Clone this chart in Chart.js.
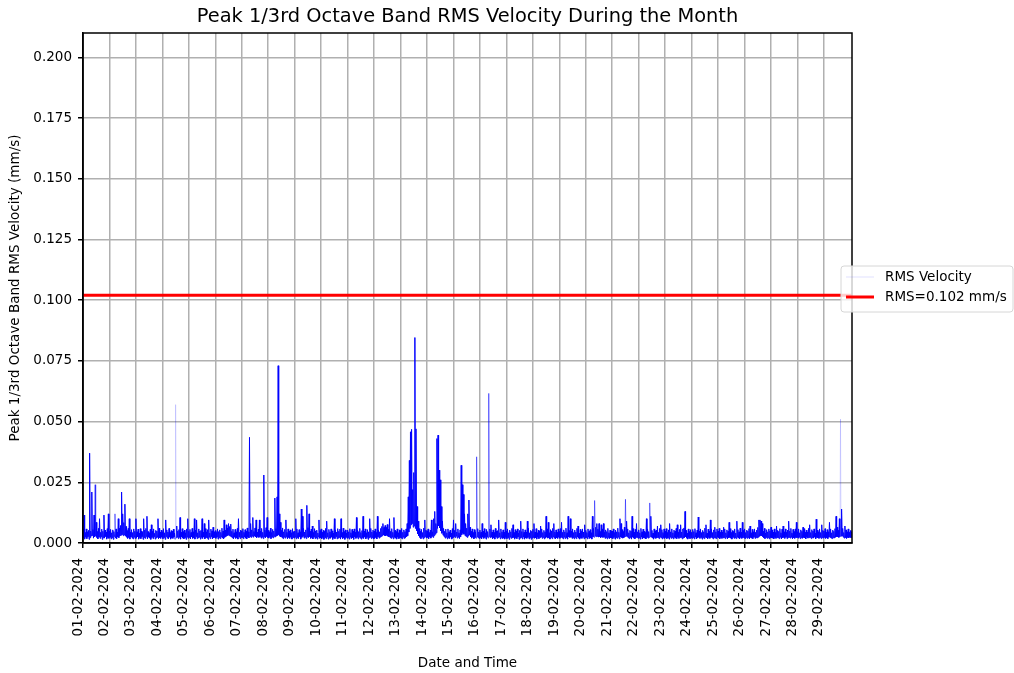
<!DOCTYPE html>
<html>
<head>
<meta charset="utf-8">
<script src="https://cdn.jsdelivr.net/npm/chart.js@4.4.1/dist/chart.umd.min.js"></script>
<style>
  html, body { margin: 0; padding: 0; background: #fff; }
  canvas { display: block; }
</style>
</head>
<body>
<canvas id="rmsChart" width="1014" height="673"></canvas>
<script>
// Day tick labels (one tick per day of February 2024)
const dayLabels = [
  "01-02-2024", "02-02-2024", "03-02-2024", "04-02-2024", "05-02-2024",
  "06-02-2024", "07-02-2024", "08-02-2024", "09-02-2024", "10-02-2024",
  "11-02-2024", "12-02-2024", "13-02-2024", "14-02-2024", "15-02-2024",
  "16-02-2024", "17-02-2024", "18-02-2024", "19-02-2024", "20-02-2024",
  "21-02-2024", "22-02-2024", "23-02-2024", "24-02-2024", "25-02-2024",
  "26-02-2024", "27-02-2024", "28-02-2024", "29-02-2024"
];
const yTickValues = [0, 0.025, 0.05, 0.075, 0.1, 0.125, 0.15, 0.175, 0.2];

// Hourly highest reading, in µm/s (= mm/s x 1000), one row per day
const hourlyHighUm = [
  5.6, 11.5, 4.3, 5.8, 4.6, 5.2, 37, 4.9, 21, 5.5, 11.5, 24, 8.5, 4.7, 6.0, 10, 4.4, 5.7, 4.8, 11.5, 5.3, 4.5, 5.9, 12,
  4.9, 5.6, 4.2, 5.4, 4.7, 12, 5.8, 4.5, 10, 6.1, 7.2, 21, 12, 8.4, 16, 6.8, 5.1, 6.0, 10, 4.4, 5.5, 4.3, 5.8, 4.8,
  10, 4.6, 5.7, 4.1, 5.9, 4.9, 4.4, 10, 5.3, 6.0, 11, 4.7, 4.2, 5.6, 7.5, 4.8, 5.8, 4.0, 5.2, 4.9, 10, 6.1, 4.5, 5.3,
  4.6, 5.9, 4.2, 9.5, 5.4, 4.5, 6.0, 4.3, 5.1, 4.8, 5.7, 4.1, 57, 7, 4.9, 5.5, 10.5, 4.4, 5.9, 4.7, 5.3, 4.2, 5.8, 10,
  4.8, 5.6, 4.3, 6.0, 4.6, 10, 5.3, 9.5, 4.2, 5.8, 4.9, 5.2, 10, 4.4, 8, 5.9, 4.6, 5.5, 9.5, 4.1, 5.7, 5.0, 6.5, 4.6,
  5.1, 4.3, 5.8, 4.7, 5.4, 4.4, 6.1, 4.9, 9.5, 5.3, 7.5, 6.2, 8, 6.8, 7.8, 4.8, 5.7, 4.2, 5.6, 4.6, 6.0, 10, 4.4, 5.3,
  5.0, 5.9, 4.4, 5.5, 4.8, 6.2, 4.6, 43.5, 8, 5.4, 10.5, 4.7, 6.2, 9.5, 4.5, 5.7, 9.5, 4.9, 6.0, 4.4, 28, 5.3, 6.3, 10.5,
  5.2, 4.6, 6.1, 4.3, 5.6, 4.9, 18.5, 5.9, 19, 73, 12, 8.5, 5.2, 6.2, 4.6, 5.6, 9.5, 4.4, 5.8, 4.9, 5.4, 4.2, 5.9, 4.7,
  4.9, 10, 5.8, 4.2, 5.5, 4.6, 14, 11, 6.0, 4.5, 5.4, 15.5, 6.3, 12, 4.8, 5.7, 7, 4.3, 5.9, 5.0, 5.3, 4.1, 9.5, 5.1,
  5.8, 4.4, 5.2, 4.8, 6.0, 9, 4.2, 5.6, 4.6, 5.8, 5.0, 4.1, 10, 5.4, 4.5, 5.9, 4.8, 5.7, 10, 4.3, 6.1, 4.7, 5.4, 4.1,
  5.3, 4.6, 5.9, 4.2, 5.6, 4.8, 5.8, 4.4, 10.5, 5.4, 4.7, 6.0, 4.3, 5.1, 11, 4.9, 5.8, 4.2, 5.5, 4.6, 10, 6.0, 4.5, 5.3,
  4.9, 5.8, 4.3, 11, 5.3, 4.6, 6.0, 6.8, 8, 6.4, 7.2, 6.4, 7.6, 5.6, 10, 4.8, 5.9, 4.4, 10.5, 5.2, 4.7, 5.8, 4.2, 5.4,
  5.1, 6.0, 4.4, 5.4, 4.7, 5.8, 8, 19, 34, 45.8, 46.8, 22, 29, 84.6, 47, 15, 9, 5.9, 4.8, 5.6, 4.3, 6.1, 9.5, 5.3,
  5.0, 5.8, 4.3, 5.3, 9.5, 4.6, 10, 13, 8, 43, 44.4, 30, 26, 15, 9, 6.0, 4.8, 5.7, 4.2, 5.8, 4.6, 5.3, 4.1, 5.9,
  9.5, 5.2, 8, 4.5, 5.8, 4.2, 5.4, 32, 24, 20, 12, 8, 6.1, 12, 17.7, 6.5, 4.8, 5.8, 4.3, 5.5, 4.6, 35.5, 5.9, 4.5,
  5.3, 4.4, 8, 4.8, 5.9, 4.2, 5.6, 4.7, 61.6, 5.8, 7.5, 4.5, 5.4, 4.3, 6.0, 4.9, 5.1, 9.5, 4.2, 5.8, 4.6, 5.4, 4.4, 8.5,
  4.8, 5.8, 4.2, 5.3, 4.6, 6.0, 7.5, 4.3, 5.5, 4.9, 5.8, 4.1, 5.2, 9, 4.7, 5.8, 4.4, 5.4, 4.5, 9, 6.1, 4.2, 5.2, 4.8,
  5.6, 8, 4.5, 5.9, 4.2, 5.3, 4.9, 7, 5.8, 4.3, 5.2, 4.6, 11, 5.8, 8.5, 4.2, 5.5, 5.0, 6.0, 8, 4.5, 5.4, 4.4, 5.8,
  4.7, 5.9, 8.5, 4.4, 5.4, 4.6, 6.1, 4.2, 11, 5.1, 10, 4.9, 5.8, 4.3, 5.3, 4.5, 6.0, 7, 4.1, 5.6, 4.8, 5.8, 4.5, 7.5,
  5.2, 4.3, 5.8, 4.8, 5.5, 4.2, 11, 6.0, 17.5, 6.5, 8, 5.7, 8, 4.7, 7.5, 5.8, 8, 4.4, 5.4, 4.7, 6.0, 4.2, 5.3, 5.0,
  4.9, 5.8, 4.3, 5.3, 4.6, 6.1, 4.4, 10, 8, 5.5, 4.7, 6.5, 18, 9, 5.8, 4.2, 5.2, 4.9, 11, 5.9, 4.4, 5.6, 8, 4.6,
  5.4, 4.2, 6.0, 4.6, 5.7, 4.8, 4.3, 10, 5.8, 4.7, 16.5, 11, 5.2, 4.1, 5.8, 5.0, 5.3, 7, 4.4, 6.0, 7.5, 5.5, 4.3, 5.8,
  4.8, 5.9, 4.3, 5.4, 8, 4.6, 5.8, 4.2, 5.3, 4.9, 6.0, 7.5, 4.4, 5.6, 7.5, 4.5, 5.8, 6.2, 13, 5.2, 4.1, 5.8, 4.7, 5.5,
  4.4, 5.6, 4.7, 5.9, 4.2, 5.3, 10.7, 4.9, 5.8, 4.3, 5.2, 4.6, 6.1, 7.5, 4.1, 5.7, 4.8, 9.5, 5.8, 4.3, 5.4, 6.5, 4.6, 5.8,
  4.9, 6.0, 4.4, 5.3, 4.5, 6.5, 5.8, 4.2, 5.4, 4.8, 8.5, 5.9, 4.3, 5.1, 4.7, 5.8, 4.1, 9, 5.5, 4.6, 6.1, 4.4, 8.5, 5.2,
  5.8, 4.3, 5.3, 4.9, 5.9, 7, 4.2, 5.6, 4.6, 5.8, 4.4, 5.3, 6.4, 9.5, 9.5, 9, 8, 4.8, 6.0, 4.1, 5.5, 4.6, 5.8, 5.0,
  6.5, 5.4, 4.5, 5.8, 4.3, 7, 5.2, 4.8, 5.9, 4.2, 5.7, 7, 4.6, 5.8, 4.4, 5.3, 9, 4.9, 6.0, 4.1, 5.6, 4.7, 5.8, 8.5,
  4.6, 5.8, 4.2, 5.4, 4.8, 6.5, 5.9, 4.4, 5.3, 4.5, 6.0, 7.5, 4.3, 5.5, 4.9, 5.8, 4.1, 9.8, 5.3, 4.6, 5.8, 4.3, 7.5, 5.2,
  4.9, 5.9, 4.4, 5.5, 4.6, 8.5, 5.8, 4.2, 5.3, 4.8, 5.9, 11, 6.5, 5.2, 10, 51, 14, 6.0, 4.3, 7, 5.4, 4.6, 5.8, 4.4,
  5.1, 4.5
];

// Hourly lowest reading, in µm/s, one row per day
const hourlyLowUm = [
  2.1, 1.6, 2.4, 1.8, 2.6, 1.5, 2.2, 2.9, 3.1, 2.0, 2.5, 2.8, 2.3, 1.7, 2.4, 1.9, 2.6, 1.5, 2.2, 2.0, 2.7, 1.6, 2.3, 1.9,
  2.4, 1.7, 2.2, 1.5, 2.6, 2.0, 1.8, 2.5, 2.2, 2.9, 3.2, 3.5, 3.0, 3.3, 2.8, 2.4, 1.9, 2.3, 1.6, 2.5, 2.0, 1.7, 2.4, 1.8,
  2.0, 2.5, 1.6, 2.3, 1.8, 2.6, 1.5, 2.2, 1.9, 2.7, 1.7, 2.4, 2.0, 1.5, 2.3, 1.8, 2.6, 1.6, 2.1, 2.4, 1.7, 2.2, 1.9, 2.5,
  1.8, 2.3, 1.5, 2.6, 2.0, 1.7, 2.4, 1.6, 2.2, 1.9, 2.5, 1.5, 2.1, 2.4, 1.8, 2.3, 1.6, 2.6, 2.0, 1.7, 2.2, 1.5, 2.4, 1.9,
  2.3, 1.7, 2.5, 1.9, 2.2, 1.6, 2.6, 1.8, 2.1, 2.4, 1.6, 2.3, 1.9, 2.5, 1.7, 2.2, 2.0, 1.5, 2.4, 1.8, 2.6, 1.7, 2.1, 2.3,
  1.9, 2.4, 1.6, 2.2, 1.8, 2.5, 2.0, 1.7, 2.3, 2.6, 2.9, 3.2, 3.0, 2.8, 2.5, 2.1, 1.7, 2.4, 1.9, 2.2, 1.6, 2.5, 1.8, 2.3,
  2.2, 1.8, 2.5, 2.0, 1.7, 2.4, 2.1, 2.6, 2.3, 2.8, 2.4, 2.9, 2.5, 2.2, 2.7, 2.3, 2.6, 2.0, 2.4, 1.8, 2.5, 2.1, 2.7, 2.3,
  2.0, 2.6, 1.8, 2.4, 2.1, 2.7, 2.5, 2.9, 3.1, 3.4, 2.8, 2.5, 2.2, 1.8, 2.4, 2.0, 2.6, 1.7, 2.3, 1.9, 2.5, 1.6, 2.2, 2.0,
  2.4, 1.7, 2.2, 1.9, 2.6, 1.6, 2.3, 2.7, 2.0, 2.4, 1.8, 2.5, 2.2, 2.6, 1.9, 2.3, 1.7, 2.4, 1.8, 2.1, 1.6, 2.5, 1.9, 2.2,
  1.7, 2.3, 1.5, 2.2, 1.8, 2.5, 1.6, 2.1, 1.9, 2.4, 1.5, 2.2, 1.8, 2.6, 1.7, 2.0, 2.3, 1.6, 2.4, 1.8, 2.1, 1.5, 2.3, 1.9,
  2.2, 1.6, 2.4, 1.8, 2.1, 1.5, 2.5, 1.9, 2.3, 1.7, 2.4, 2.0, 1.6, 2.2, 1.9, 2.5, 1.7, 2.3, 1.5, 2.1, 2.4, 1.8, 2.2, 1.6,
  1.9, 2.3, 1.7, 2.5, 2.0, 2.4, 2.7, 3.0, 3.3, 3.1, 2.9, 3.2, 2.8, 2.5, 2.2, 1.9, 2.4, 1.7, 2.3, 2.0, 1.6, 2.4, 1.8, 2.2,
  2.0, 1.7, 2.4, 1.9, 2.2, 2.6, 3.0, 4.5, 6.0, 7.5, 8.0, 6.5, 7.0, 6.0, 5.0, 3.8, 2.9, 2.3, 1.8, 2.4, 1.7, 2.2, 2.6, 2.0,
  2.3, 1.8, 2.5, 2.0, 2.7, 2.3, 3.0, 3.6, 4.2, 6.0, 7.0, 6.2, 5.0, 4.0, 3.2, 2.6, 2.0, 2.4, 1.7, 2.2, 1.9, 2.5, 1.6, 2.1,
  2.6, 2.2, 2.8, 2.0, 2.4, 1.8, 2.6, 3.4, 4.0, 3.6, 3.0, 2.7, 2.3, 2.9, 3.3, 2.6, 2.0, 2.4, 1.7, 2.2, 1.9, 2.5, 2.1, 1.8,
  2.2, 1.7, 2.4, 1.9, 2.3, 1.6, 2.5, 2.0, 2.6, 2.2, 2.4, 1.8, 2.1, 1.6, 2.4, 1.9, 2.2, 2.5, 1.7, 2.3, 1.8, 2.0, 1.6, 2.3,
  1.8, 2.2, 1.5, 2.4, 1.9, 2.1, 2.3, 1.6, 2.2, 1.8, 2.5, 1.5, 2.0, 2.3, 1.7, 2.4, 1.6, 2.1, 1.9, 2.3, 1.7, 2.2, 1.5, 2.0,
  2.3, 1.9, 2.1, 1.6, 2.4, 1.8, 2.2, 2.5, 1.9, 2.3, 1.7, 2.1, 2.4, 2.0, 2.2, 1.6, 2.3, 1.8, 2.5, 2.0, 1.7, 2.2, 1.9, 2.4,
  1.9, 2.3, 2.1, 1.7, 2.4, 1.8, 2.2, 1.6, 2.5, 2.3, 2.4, 1.9, 2.2, 1.7, 2.3, 1.8, 2.5, 2.0, 1.6, 2.2, 1.9, 2.4, 1.7, 2.1,
  2.2, 1.7, 2.4, 1.9, 2.1, 1.6, 2.5, 2.3, 2.8, 2.6, 2.7, 2.4, 2.6, 2.2, 2.5, 2.3, 2.4, 1.9, 2.2, 1.7, 2.3, 1.8, 2.1, 2.0,
  1.8, 2.3, 1.6, 2.2, 1.9, 2.4, 1.7, 2.5, 2.3, 2.0, 2.2, 2.5, 2.8, 2.6, 2.1, 1.8, 2.3, 1.6, 2.4, 2.0, 1.7, 2.2, 2.3, 1.9,
  2.1, 1.6, 2.4, 1.8, 2.2, 2.0, 1.7, 2.3, 2.0, 2.2, 2.6, 2.4, 2.0, 1.6, 2.3, 1.9, 2.1, 2.2, 1.8, 2.4, 2.1, 1.7, 2.2, 1.9,
  2.3, 1.8, 2.1, 1.6, 2.4, 1.9, 2.2, 1.7, 2.3, 2.0, 1.8, 2.4, 1.9, 2.2, 2.3, 1.7, 2.1, 2.2, 2.5, 2.0, 1.6, 2.3, 1.8, 2.1,
  1.9, 2.2, 1.7, 2.4, 1.8, 2.1, 2.4, 1.9, 2.3, 1.6, 2.2, 1.8, 2.4, 2.1, 1.7, 2.3, 1.9, 2.3, 2.1, 1.7, 2.2, 2.0, 1.8, 2.4,
  2.2, 1.7, 2.3, 1.9, 2.1, 2.2, 1.8, 2.4, 1.7, 2.2, 2.3, 2.0, 1.6, 2.3, 1.9, 2.1, 1.8, 2.4, 2.0, 1.7, 2.3, 1.9, 2.2, 2.0,
  1.8, 2.3, 1.9, 2.2, 1.7, 2.3, 2.0, 1.8, 2.4, 1.9, 2.2, 2.1, 2.4, 2.8, 3.0, 2.9, 2.6, 2.1, 1.8, 2.3, 1.9, 2.2, 1.7, 2.2,
  2.2, 2.0, 1.7, 2.3, 1.9, 2.2, 2.1, 1.8, 2.4, 1.7, 2.2, 2.3, 1.9, 2.4, 1.8, 2.2, 2.3, 2.0, 2.4, 1.7, 2.1, 1.9, 2.3, 2.2,
  2.0, 2.4, 1.8, 2.2, 1.9, 2.3, 2.1, 1.7, 2.4, 2.0, 2.2, 2.3, 1.8, 2.2, 2.0, 2.4, 1.7, 2.3, 2.1, 1.9, 2.3, 1.8, 2.2, 2.0,
  2.3, 1.9, 2.2, 1.8, 2.4, 2.3, 2.0, 1.8, 2.2, 2.1, 2.4, 2.6, 2.5, 2.3, 2.6, 2.8, 2.9, 2.4, 2.0, 2.2, 1.9, 2.3, 2.1, 2.4,
  2.2, 2.0
];
const rmsLevel = 0.102;

// isolated peaks that render pale in the original ([day, hour])
const faintPeaks = [[3, 12], [28, 15]];
const softPeaks = [[0, 11], [1, 5], [14, 21], [15, 8], [19, 8], [20, 12], [21, 10]];

const xMax = 29.06;

// each hour: its high reading, then its low reading half an hour later
const velocityPoints = [];
hourlyHighUm.forEach((hi, i) => {
  velocityPoints.push({ x: i / 24, y: hi / 1000 });
  velocityPoints.push({ x: i / 24 + 1 / 48, y: hourlyLowUm[i] / 1000 });
});
const peakIndex = ([d, h]) => 2 * (d * 24 + h);
const faintSet = new Set(faintPeaks.map(peakIndex));
const softSet = new Set(softPeaks.map(peakIndex));

Chart.defaults.font.family = "'DejaVu Sans', sans-serif";
Chart.defaults.color = "#000";

const frameAndLegend = {
  id: "frameAndLegend",
  afterDraw(chart) {
    const { ctx, chartArea: a } = chart;
    ctx.save();
    // axes box
    ctx.strokeStyle = "#000";
    ctx.lineWidth = 1.5;
    ctx.strokeRect(a.left, a.top, a.right - a.left, a.bottom - a.top);

    // title
    ctx.fillStyle = "#000";
    ctx.font = "19.4px 'DejaVu Sans'";
    ctx.textAlign = "center";
    ctx.textBaseline = "middle";
    ctx.fillText("Peak 1/3rd Octave Band RMS Velocity During the Month", (a.left + a.right) / 2, 16.5);

    // legend box, sitting over the right spine
    const lx = 841, ly = 266, lw = 172, lh = 46;
    ctx.beginPath();
    ctx.roundRect(lx, ly, lw, lh, 3);
    ctx.fillStyle = "rgba(255,255,255,0.8)";
    ctx.fill();
    ctx.strokeStyle = "#d6d6d6";
    ctx.lineWidth = 1;
    ctx.stroke();

    const entries = [
      { text: "RMS Velocity", color: "rgba(0,0,255,0.12)", width: 1 },
      { text: "RMS=" + rmsLevel + " mm/s", color: "#ff0000", width: 3 }
    ];
    ctx.font = "13.5px 'DejaVu Sans'";
    ctx.textAlign = "left";
    entries.forEach((e, i) => {
      const y = ly + 11 + i * 20;
      ctx.beginPath();
      ctx.moveTo(lx + 5, y);
      ctx.lineTo(lx + 33, y);
      ctx.strokeStyle = e.color;
      ctx.lineWidth = e.width;
      ctx.stroke();
      ctx.fillStyle = "#000";
      ctx.fillText(e.text, lx + 44, y);
    });
    ctx.restore();
  }
};

const gridStyle = {
  color: "#b0b0b0",
  lineWidth: 1.5,
  tickColor: "#000",
  tickWidth: 1.5,
  tickLength: 5
};

new Chart(document.getElementById("rmsChart"), {
  type: "line",
  data: {
    datasets: [
      {
        label: "RMS Velocity",
        data: velocityPoints,
        borderColor: "#0000ff",
        borderWidth: 1,
        pointRadius: 0,
        tension: 0,
        segment: {
          borderColor: (c) => {
            if (faintSet.has(c.p0DataIndex) || faintSet.has(c.p1DataIndex)) return "rgba(0,0,255,0.15)";
            if (softSet.has(c.p0DataIndex) || softSet.has(c.p1DataIndex)) return "rgba(0,0,255,0.5)";
            return undefined;
          }
        }
      },
      {
        label: "RMS=" + rmsLevel + " mm/s",
        data: [{ x: 0, y: rmsLevel }, { x: xMax, y: rmsLevel }],
        borderColor: "#ff0000",
        borderWidth: 3,
        pointRadius: 0
      }
    ]
  },
  options: {
    responsive: false,
    animation: false,
    devicePixelRatio: 1,
    layout: { padding: { top: 33, right: 162, left: 0, bottom: 0 } },
    plugins: { legend: { display: false }, tooltip: { enabled: false } },
    scales: {
      x: {
        type: "linear",
        min: 0,
        max: xMax,
        afterBuildTicks: (s) => { s.ticks = dayLabels.map((_, i) => ({ value: i })); },
        afterFit: (s) => { s.height = 130; },
        ticks: {
          autoSkip: false,
          minRotation: 90,
          maxRotation: 90,
          padding: 10,
          labelOffset: -5,
          font: { size: 13.5 },
          callback: (v) => dayLabels[v]
        },
        grid: gridStyle,
        border: { display: true, color: "#000", width: 1.5 },
        title: { display: true, text: "Date and Time", font: { size: 13.5 }, padding: { top: 4, bottom: 1 } }
      },
      y: {
        min: 0,
        max: 0.21,
        afterBuildTicks: (s) => { s.ticks = yTickValues.map((v) => ({ value: v })); },
        afterFit: (s) => { s.width = 83; },
        ticks: {
          padding: 6,
          font: { size: 13.5 },
          callback: (v) => v.toFixed(3)
        },
        grid: gridStyle,
        border: { display: true, color: "#000", width: 1.5 },
        title: { display: true, text: "Peak 1/3rd Octave Band RMS Velocity (mm/s)", font: { size: 13.5 }, padding: { top: 7, bottom: 0 } }
      }
    }
  },
  plugins: [frameAndLegend]
});
</script>
</body>
</html>
